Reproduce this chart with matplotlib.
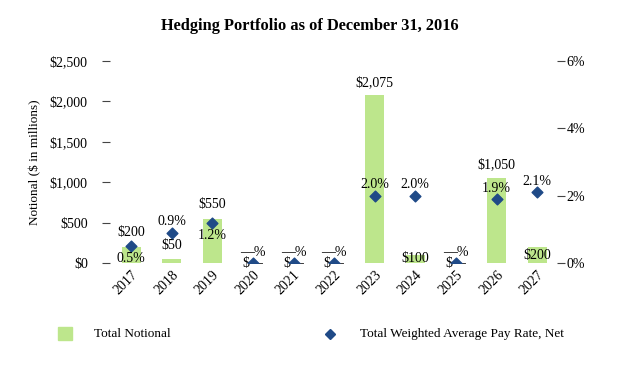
import matplotlib.pyplot as plt
from matplotlib.ticker import FuncFormatter

plt.rcParams['font.family'] = ['Liberation Serif', 'DejaVu Serif']

# 데이터
years = ['2017', '2018', '2019', '2020', '2021', '2022', '2023', '2024', '2025', '2026', '2027']
notional = [200, 50, 550, 0, 0, 0, 2075, 100, 0, 1050, 200]
pay_rate = [0.5, 0.9, 1.2, 0, 0, 0, 2.0, 2.0, 0, 1.9, 2.1]
notional_labels = ['$200', '$50', '$550', '$—', '$—', '$—', '$2,075', '$100', '$—', '$1,050', '$200']
rate_labels = ['0.5%', '0.9%', '1.2%', '—%', '—%', '—%', '2.0%', '2.0%', '—%', '1.9%', '2.1%']

# 라벨 위치 (픽셀 오프셋)
bar_off = [14, 13, 14, 0, 0, 0, 13, -4, 0, 13, -9]
rate_off = [-12, 11, -13, 11, 11, 11, 11, 11, 11, 11, 11]

green = '#bde68c'
blue = '#1f4a87'

fig = plt.figure(figsize=(6.2, 3.7), dpi=100)
ax = fig.add_axes([110 / 620, 107 / 370, 447 / 620, 202 / 370])
ax2 = ax.twinx()

x = list(range(len(years)))
ax.bar(x, notional, width=0.47, color=green, zorder=1)
ax2.scatter(x, pay_rate, marker='D', s=30, color=blue, zorder=3)

ax.set_ylim(0, 2500)
ax2.set_ylim(0, 6)
ax.set_xlim(-0.52, 10.49)
ax.set_yticks(range(0, 2501, 500))
ax.yaxis.set_major_formatter(FuncFormatter(lambda v, p: '${:,.0f}'.format(v)))
ax2.set_yticks(range(0, 7, 2))
ax2.yaxis.set_major_formatter(FuncFormatter(lambda v, p: '{:.0f}%'.format(v)))

for s in list(ax.spines.values()) + list(ax2.spines.values()):
    s.set_visible(False)
ax.tick_params(axis='y', length=6, width=0.8, labelsize=10, pad=10, color='#444444')
ax2.tick_params(axis='y', length=6, width=0.8, labelsize=10, pad=1, color='#444444')
ax2.set_zorder(ax.get_zorder() + 1)
ax.set_xticks(x)
ax.set_xticklabels(years, rotation=45, ha='right', rotation_mode='anchor', fontsize=10)
ax.tick_params(axis='x', length=0, pad=4)

ax.set_ylabel('Notional ($ in millions)', fontsize=9.5, labelpad=6)

# 값 라벨
for i in x:
    ax.annotate(notional_labels[i], (i, notional[i]), xytext=(0, bar_off[i]),
                textcoords='offset pixels', ha='center', va='center', fontsize=10, zorder=5)
    ax2.annotate(rate_labels[i], (i, pay_rate[i]), xytext=(0, rate_off[i]),
                 textcoords='offset pixels', ha='center', va='center', fontsize=10, zorder=5)

fig.suptitle('Hedging Portfolio as of December 31, 2016', fontsize=11.8, fontweight='bold', y=0.952)

# 범례
fig.patches.append(plt.Rectangle((58 / 620, 30 / 370), 14 / 620, 13 / 370,
                                 transform=fig.transFigure, color=green))
fig.text(94 / 620, 36 / 370, 'Total Notional', fontsize=9.5, va='center')
fig.lines.append(plt.Line2D([330 / 620], [36 / 370], marker='D', markersize=5, color=blue,
                            transform=fig.transFigure))
fig.text(360 / 620, 36 / 370, 'Total Weighted Average Pay Rate, Net', fontsize=9.5, va='center')

plt.savefig('out.png')
